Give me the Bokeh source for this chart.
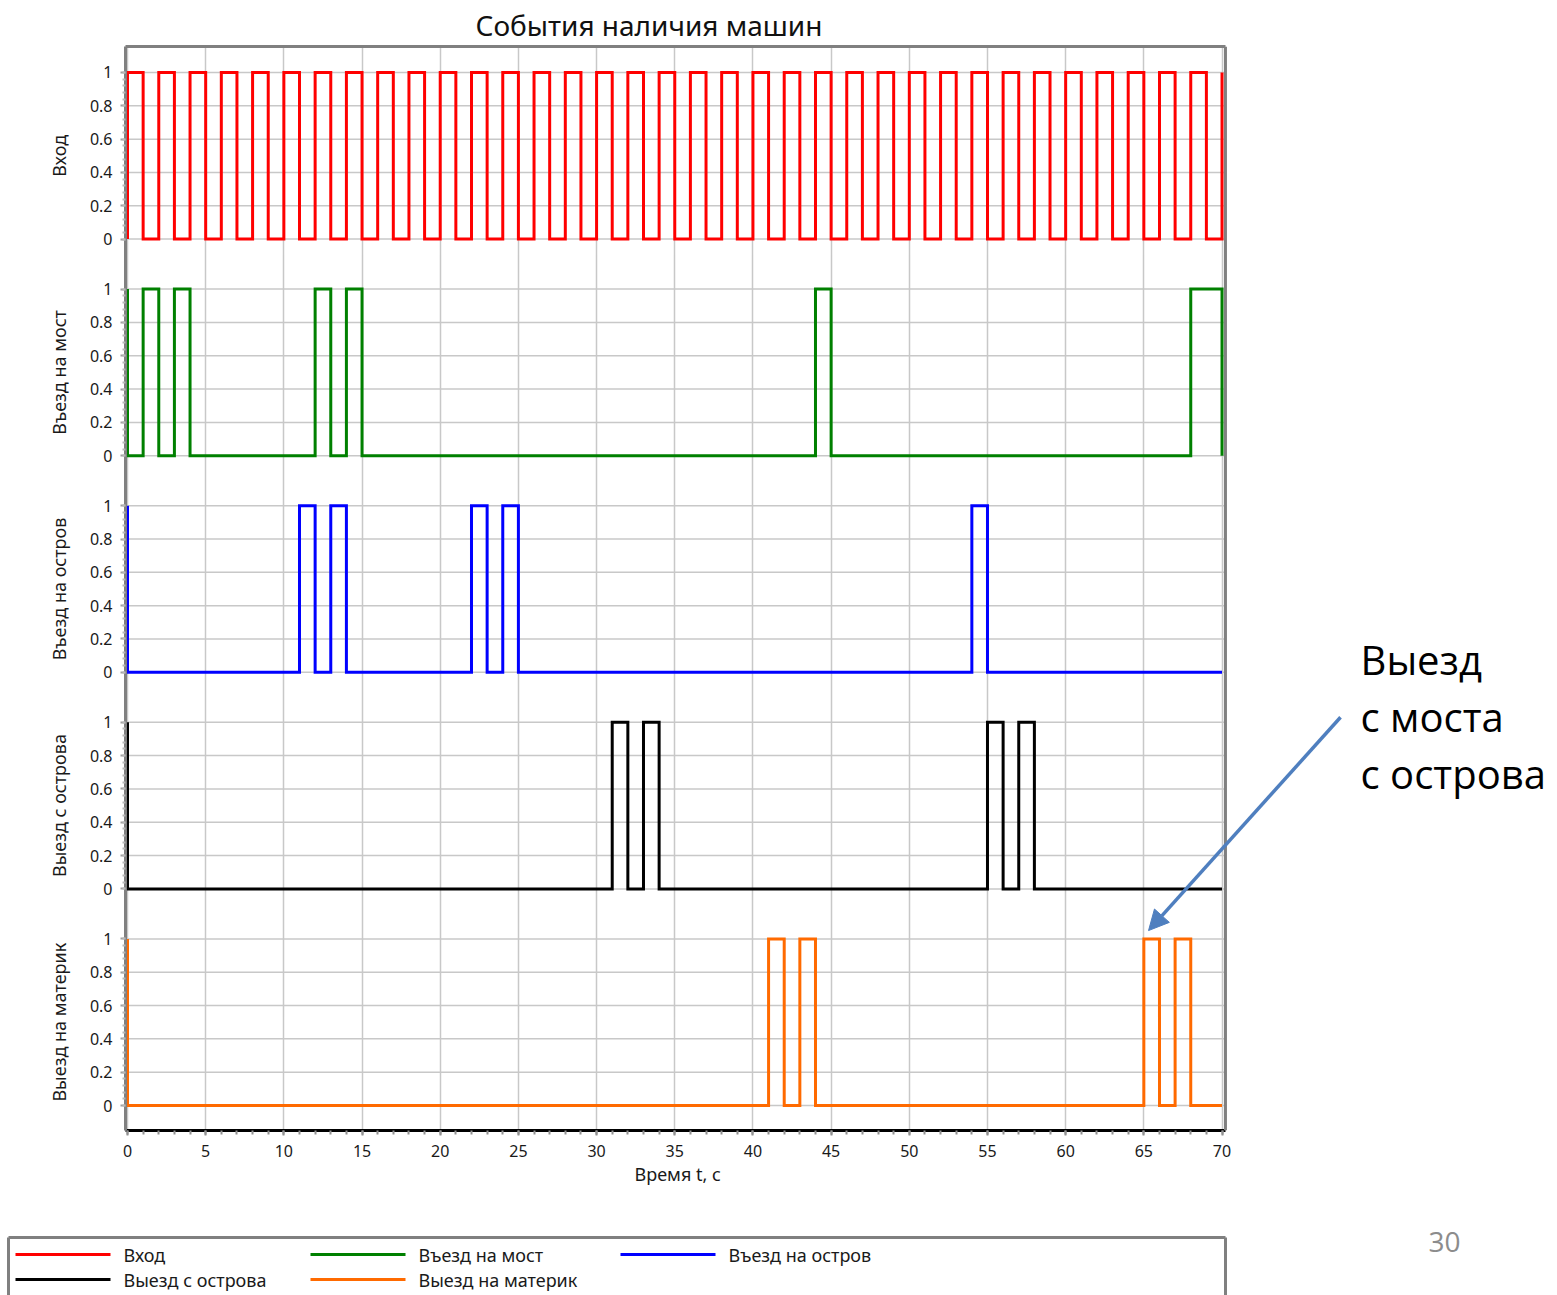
from bokeh.plotting import figure
from bokeh.models import (Range1d, FixedTicker, CustomJSTickFormatter, Label, Arrow,
                          NormalHead, LinearAxis, Span, Title)
from bokeh.embed import file_html
from bokeh.resources import INLINE
from bokeh.core.properties import value

# ---------------- data ----------------
series_names = ["Вход", "Въезд на мост", "Въезд на остров", "Выезд с острова", "Выезд на материк"]
series_colors = ["#ff0000", "#008000", "#0000ff", "#000000", "#ff6a00"]

vhod_on = [0, 2, 4, 6, 8, 10, 12, 14, 16, 18, 20, 22, 24, 26, 28, 30, 32, 34,
           36, 38, 40, 42, 44, 46, 48, 50, 52, 54, 56, 58, 60, 62, 64, 66, 68, 70]
vhod_off = [1, 3, 5, 7, 9, 11, 13, 15, 17, 19, 21, 23, 25, 27, 29, 31, 33, 35,
            37, 39, 41, 43, 45, 47, 49, 51, 53, 55, 57, 59, 61, 63, 65, 67, 69, 70]
most_on = [0, 1, 3, 12, 14, 44, 68]
most_off = [0, 2, 4, 13, 15, 45, 70]
ostrov_on = [0, 11, 13, 22, 24, 54]
ostrov_off = [0, 12, 14, 23, 25, 55]
vyezd_ostrov_on = [0, 31, 33, 55, 57]
vyezd_ostrov_off = [0, 32, 34, 56, 58]
materik_on = [0, 41, 43, 65, 67]
materik_off = [0, 42, 44, 66, 68]

t_end = 70
x_ticks = [0, 5, 10, 15, 20, 25, 30, 35, 40, 45, 50, 55, 60, 65, 70]
y_tick_values = [0, 0.2, 0.4, 0.6, 0.8, 1]

all_on = [vhod_on, most_on, ostrov_on, vyezd_ostrov_on, materik_on]
all_off = [vhod_off, most_off, ostrov_off, vyezd_ostrov_off, materik_off]

# ---------------- geometry ----------------
GAP = 1.3
n = len(series_names)
offsets = [(n - 1 - i) * GAP for i in range(n)]
y_top = offsets[0] + 1 + 0.156
y_bot = -0.15
X0 = -0.128          # left edge of plot box
X1 = 70.22           # right edge of plot box
PX_PER_X = 15.636
W = 1557
FRAME_L = 125
x_end = X0 + (W - FRAME_L) / PX_PER_X

H1 = 1200
FONT = "Noto Sans"
GRID = "#c8c8c8"
BORDER = "#808080"
TXT = "#1a1a1a"

p = figure(width=W, height=H1, output_backend="svg", toolbar_location=None,
           x_range=Range1d(X0, x_end), y_range=Range1d(y_bot, y_top),
           min_border_left=FRAME_L, min_border_right=0, min_border_top=46,
           min_border_bottom=H1 - 1130)
p.background_fill_color = "white"
p.border_fill_color = "white"
p.outline_line_color = None

# title
p.title.text = "События наличия машин"
p.title.align = "left"
p.title.offset = 350
p.title.text_font = FONT
p.title.text_font_size = "28px"
p.title.text_font_style = "normal"
p.title.text_color = "#111111"
p.title.standoff = 5

# bottom x axis
p.xaxis.ticker = FixedTicker(ticks=x_ticks, minor_ticks=list(range(0, 71)))
p.xaxis.bounds = (X0, X1)
p.xaxis.major_label_text_font = FONT
p.xaxis.major_label_text_font_size = "16px"
p.xaxis.major_label_text_color = TXT
p.xaxis.major_label_standoff = 9
p.xaxis.axis_line_color = "#000000"
p.xaxis.axis_line_width = 3
p.xaxis.major_tick_line_color = "#909090"
p.xaxis.major_tick_line_width = 2
p.xaxis.major_tick_in = 0
p.xaxis.major_tick_out = 5
p.xaxis.minor_tick_line_color = "#909090"
p.xaxis.minor_tick_line_width = 2
p.xaxis.minor_tick_in = 0
p.xaxis.minor_tick_out = 4

# x axis title, placed under the plot box centre
p.add_layout(Title(text="Время t, с", align="left", offset=509, standoff=0,
                   text_font=FONT, text_font_size="18px", text_font_style="normal",
                   text_color=TXT), "below")

# top border as a bare axis
top_axis = LinearAxis(ticker=FixedTicker(ticks=[]), bounds=(X0, X1),
                      axis_line_color=BORDER, axis_line_width=3,
                      major_tick_line_color=None, minor_tick_line_color=None,
                      major_label_text_font_size="0px")
p.add_layout(top_axis, "above")

# left y axis with per-panel ticks
y_ticks, y_minor = [], []
for o in offsets:
    for v in y_tick_values:
        y_ticks.append(round(o + v, 6))
    for k in range(26):
        y_minor.append(round(o + k * 0.04, 6))
p.yaxis.ticker = FixedTicker(ticks=y_ticks, minor_ticks=y_minor)
p.yaxis.formatter = CustomJSTickFormatter(code="""
const v = Math.round(tick * 10);
const r = ((v % 13) + 13) % 13;
if (r == 0) return '0';
if (r == 10) return '1';
return '0.' + r;
""")
p.yaxis.major_label_text_font = FONT
p.yaxis.major_label_text_font_size = "16px"
p.yaxis.major_label_text_color = TXT
p.yaxis.major_label_standoff = 8
p.yaxis.axis_line_color = BORDER
p.yaxis.axis_line_width = 3
p.yaxis.major_tick_line_color = "#a0a0a0"
p.yaxis.major_tick_line_width = 2
p.yaxis.major_tick_in = 0
p.yaxis.major_tick_out = 5
p.yaxis.minor_tick_line_color = "#b8b8b8"
p.yaxis.minor_tick_line_width = 2
p.yaxis.minor_tick_in = 0
p.yaxis.minor_tick_out = 3

# panel name axis (outer left)
name_axis = LinearAxis(
    ticker=FixedTicker(ticks=[round(o + 0.5, 6) for o in offsets]),
    formatter=CustomJSTickFormatter(args=dict(names=series_names), code="""
const i = Math.round((tick - 0.5) / 1.3);
return names[names.length - 1 - i];
"""),
    major_label_orientation="parallel",
    major_label_standoff=9,
    major_label_text_font=FONT, major_label_text_font_size="18px",
    major_label_text_color=TXT,
    axis_line_color=None, major_tick_line_color=None, minor_tick_line_color=None)
p.add_layout(name_axis, "left")

# grids
p.xgrid.grid_line_color = GRID
p.xgrid.grid_line_width = 1.5
p.ygrid.visible = False
p.segment(x0=[X0] * len(y_ticks), x1=[X1] * len(y_ticks), y0=y_ticks, y1=y_ticks,
          line_color=GRID, line_width=1.5, level="underlay")

# right border
p.add_layout(Span(location=X1, dimension="height", line_color=BORDER, line_width=3))

# step signals
for on, off, o, color in zip(all_on, all_off, offsets, series_colors):
    xs, ys = [0], [o]
    for a, b in zip(on, off):
        xs += [a, a, b, b]
        ys += [o, o + 1, o + 1, o]
    if xs[-1] < t_end:
        xs.append(t_end)
        ys.append(o)
    p.line(xs, ys, line_color=color, line_width=3, line_join="miter")

# callout
callout_lines = ["Выезд", "с моста", "с острова"]
for i, txt in enumerate(callout_lines):
    p.add_layout(Label(x=78.86, y=2.675 - i * 0.342, text=txt,
                       text_align="left", text_baseline="middle",
                       text_font="Open Sans", text_font_size="40px",
                       text_color="#000000"))
p.add_layout(Arrow(x_start=77.58, y_start=2.33, x_end=65.3, y_end=1.05,
                   line_color="#4f7fbf", line_width=3.5,
                   end=NormalHead(size=20, fill_color="#4f7fbf", line_color="#4f7fbf")))

# ---------------- legend area (page coordinates) ----------------
LH = 1295 - H1
lg = figure(width=W, height=LH, output_backend="svg", toolbar_location=None,
            x_range=Range1d(0, W), y_range=Range1d(H1 + LH, H1),
            x_axis_type=None, y_axis_type=None, min_border=0)
lg.outline_line_color = None
lg.grid.visible = False
lg.background_fill_color = "white"
lg.border_fill_color = "white"

lg.multi_line([[8, 1225], [8, 8], [1225, 1225]], [[1237, 1237], [1237, 1300], [1237, 1300]],
              line_color=BORDER, line_width=3)

leg_x = [15, 310, 620, 15, 310]
leg_y = [1254, 1254, 1254, 1279, 1279]
for name, color, lx, ly in zip(series_names, series_colors, leg_x, leg_y):
    lg.line([lx, lx + 95], [ly, ly], line_color=color, line_width=3)
    lg.text(x=[lx + 108], y=[ly], text=[name], text_font=value(FONT),
            text_font_size="18px", text_baseline="middle", text_color=TXT)

lg.text(x=[1444], y=[1241], text=["30"], text_font=value("Open Sans"),
        text_font_size="28px", text_align="center", text_baseline="middle",
        text_color="#8c8c8c")

open("out.html", "w").write(file_html([p, lg], INLINE))
